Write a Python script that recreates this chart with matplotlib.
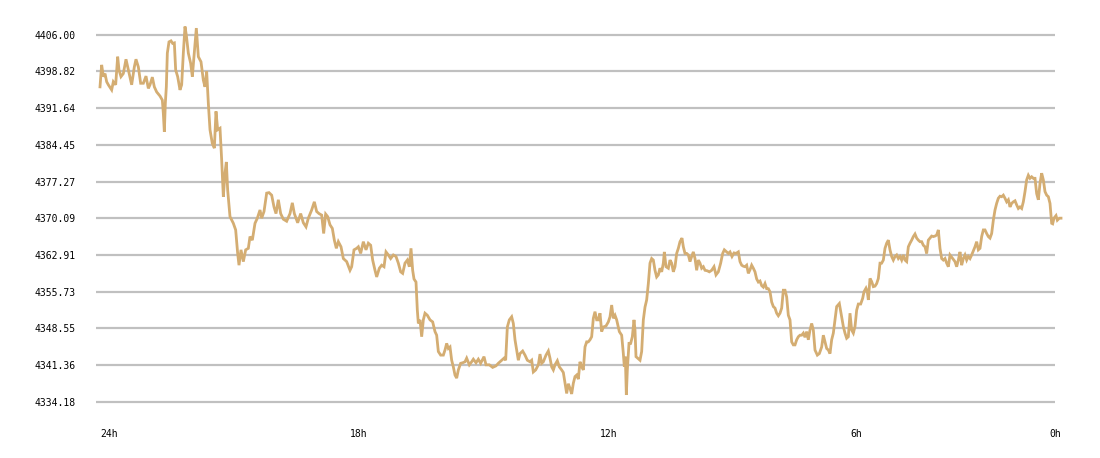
import matplotlib
matplotlib.use("Agg")
import matplotlib.pyplot as plt
import numpy as np

# price readings, minutes since start of the 24h window
t_a = [0, 2.5, 5, 7.5, 10, 12.5, 17.5, 20, 23.5, 26.5, 28.5, 31.5, 35, 39, 42.5, 47.5, 51.5, 54, 57.5, 61,
       65, 69, 72.5, 75, 78.5, 81.5, 85, 90, 93.5, 95, 96.5, 98, 99.5, 101, 103.5, 106.5, 109, 111.5, 113.5, 116.5,
       120, 122.5, 125, 127.5, 129.5, 132.5, 136, 138.5, 141, 144.5, 147.5, 151.5, 155, 157.5, 160, 162.5, 165, 168.5, 171.5, 174,
       176.5, 180, 182.5, 185, 187.5, 189.5, 191.5, 195, 200, 203.5, 206.5, 208.5, 211.5, 215, 218.5, 222.5, 225, 228.5, 232.5, 236,
       240, 242.5, 246, 250, 253.5, 257.5, 261, 264, 267.5, 271, 275, 280, 285, 288.5, 291.5, 296.5, 301, 305, 309, 312.5,
       317.5, 321.5, 325, 328.5, 332.5, 335.5, 338.5, 341.5, 345, 348.5, 351.5, 354.5, 357.5, 361.5, 365]
p_a = [4395.8, 4400.1, 4397.8, 4398.4, 4396.8, 4396.2, 4395.2, 4396.8, 4396.2, 4401.7,
       4399.1, 4397.8, 4398.4, 4401.2, 4399.1, 4396.2, 4399.7, 4401.2, 4399.7, 4396.5,
       4396.5, 4397.9, 4395.5, 4396.2, 4397.7, 4395.8, 4394.8, 4394.0, 4393.2, 4390.6,
       4387.0, 4392.6, 4395.8, 4402.4, 4404.6, 4404.8, 4404.3, 4404.4, 4399.1, 4397.8,
       4395.2, 4396.2, 4402.4, 4407.6, 4405.9, 4402.4, 4400.4, 4397.8, 4401.7, 4407.3,
       4401.7, 4400.7, 4397.1, 4395.8, 4398.8, 4392.6, 4387.4, 4384.7, 4383.8, 4391.0,
       4387.4, 4387.7, 4381.5, 4374.3, 4378.9, 4381.1, 4375.6, 4370.4, 4369.1, 4367.8,
       4363.2, 4360.9, 4363.9, 4361.6, 4363.9, 4364.2, 4366.5, 4365.8, 4369.1, 4370.1,
       4371.7, 4370.1, 4371.4, 4375.0, 4375.1, 4374.6, 4372.3, 4371.0, 4373.7, 4371.0,
       4369.9, 4369.5, 4371.0, 4373.1, 4371.0, 4369.2, 4371.0, 4369.2, 4368.4, 4370.1,
       4371.7, 4373.3, 4371.4, 4371.0, 4370.7, 4367.1, 4370.9, 4370.4, 4368.8, 4368.1,
       4365.8, 4364.2, 4365.5, 4364.5, 4362.2]

t_b = [370, 375, 377.5, 381, 385, 387.5, 391, 395, 399, 402.5, 406, 409, 412.5, 415, 419, 422.5, 426, 429, 432.5, 436,
       440, 444, 447.5, 451, 454, 457.5, 461, 464, 466.5, 469, 471, 474, 476, 477.5, 480, 482.5, 485, 487.5, 491, 495,
       499, 502.5, 505, 507.5, 511, 515, 517.5, 520, 522.5, 525, 527.5, 530, 532.5, 535, 537.5, 541, 544, 547.5, 550, 554,
       557.5, 560, 564, 567.5, 571, 576, 579, 584, 589, 594, 597.5, 602.5, 606, 608.5, 611, 614, 617.5, 620, 622.5, 625,
       627.5, 630, 634, 637.5, 641, 645, 647.5, 650, 653.5, 657.5, 660, 662.5, 665, 669, 672.5, 675, 677.5, 680, 682.5, 686,
       689, 692.5, 695, 697.5, 700, 702.5, 705, 707.5, 710, 712.5, 715, 717.5]
p_b = [4361.6, 4359.9, 4360.6, 4363.9, 4364.2, 4364.5, 4363.2, 4365.5, 4363.9, 4365.2,
       4364.8, 4361.9, 4359.9, 4358.6, 4360.3, 4360.9, 4360.6, 4363.5, 4362.9, 4362.2,
       4362.9, 4362.6, 4361.3, 4359.6, 4359.3, 4361.3, 4361.9, 4360.6, 4364.2, 4359.9,
       4358.2, 4357.6, 4352.1, 4349.5, 4350.2, 4346.9, 4350.2, 4351.5, 4351.1, 4350.2,
       4349.8, 4347.9, 4347.2, 4344.0, 4343.3, 4343.3, 4344.3, 4345.6, 4344.6, 4344.9,
       4342.3, 4341.0, 4339.4, 4338.8, 4340.4, 4341.7, 4341.8, 4342.0, 4342.7, 4341.4,
       4342.0, 4342.5, 4341.8, 4342.5, 4341.7, 4343.0, 4341.4, 4341.4, 4340.9, 4341.2,
       4341.7, 4342.3, 4342.7, 4342.3, 4348.8, 4350.2, 4350.8, 4349.5, 4346.3, 4344.3,
       4342.3, 4343.6, 4344.1, 4343.3, 4342.3, 4342.0, 4342.3, 4340.0, 4340.4, 4341.4,
       4343.5, 4341.7, 4342.0, 4343.3, 4344.1, 4342.7, 4341.0, 4340.4, 4341.4, 4342.2,
       4341.0, 4340.4, 4339.9, 4337.8, 4335.8, 4337.7, 4336.8, 4335.7, 4337.8, 4339.1,
       4339.4, 4338.6]

t_c = [720, 722.5, 725, 727.5, 730, 732.5, 735, 737.5, 740, 742.5, 745, 747.5, 750, 752.5, 755, 759, 762.5, 765, 767.5, 770,
       772.5, 775, 779, 782.5, 785, 786.5, 788, 789.5, 791, 793.5, 796, 798.5, 801, 802.5, 804, 806.5, 810, 812.5, 815, 817.5,
       820, 822.5, 825, 827.5, 830, 832.5, 835, 837.5, 840, 842.5, 845, 846.5, 849, 852.5, 855, 857.5, 860, 862.5, 865, 867.5,
       870, 873, 875, 877.5, 880, 882.5, 885, 887.5, 890, 892.5, 895, 897.5, 900, 902.5, 905, 907.5, 911, 914, 917.5, 921,
       924, 927.5, 931, 934, 936.5, 940, 942.5, 945, 948, 951, 954, 957.5, 960, 962.5, 965, 967.5, 970, 972.5, 975, 977.5,
       980, 982.5, 985, 987.5, 990, 992.5, 995, 997.5, 1000, 1002.5, 1005, 1007.5, 1010, 1012.5, 1015, 1017.5, 1020, 1022.5,
       1025, 1027.5, 1030, 1032.5, 1035, 1037.5, 1040, 1042.5, 1045, 1047.5, 1050, 1052.5, 1055, 1057.5, 1060, 1062.5,
       1065, 1067.5, 1070]
p_c = [4342.0, 4341.0, 4340.4, 4344.9, 4345.9, 4345.9, 4346.3, 4346.9, 4350.5, 4351.8,
       4350.2, 4350.2, 4351.5, 4347.9, 4348.8, 4349.0, 4349.8, 4350.8, 4353.1, 4350.5,
       4351.1, 4350.2, 4347.9, 4347.2, 4343.6, 4341.0, 4343.0, 4335.5, 4340.4, 4345.6,
       4345.6, 4346.9, 4350.2, 4348.2, 4343.0, 4342.7, 4342.3, 4344.0, 4350.2, 4352.7,
       4354.1, 4357.3, 4361.3, 4362.2, 4361.9, 4359.9, 4358.6, 4359.0, 4360.3, 4359.6,
       4361.3, 4363.5, 4360.6, 4360.3, 4361.9, 4361.3, 4359.6, 4360.6, 4363.2, 4364.2,
       4365.5, 4366.2, 4364.5, 4363.2, 4363.2, 4362.9, 4361.6, 4362.6, 4363.5, 4362.2,
       4359.9, 4361.9, 4361.3, 4360.3, 4360.6, 4359.9, 4359.8, 4359.6, 4359.9, 4360.6,
       4359.0, 4359.6, 4361.3, 4363.2, 4363.9, 4363.5, 4363.2, 4363.5, 4362.6, 4363.3,
       4363.2, 4363.5, 4361.6, 4360.9, 4360.7, 4360.6, 4360.9, 4359.3, 4360.0, 4360.9,
       4360.3, 4359.6, 4358.2, 4357.6, 4357.8, 4356.9, 4356.6, 4357.3, 4356.3, 4356.3,
       4355.7, 4353.7, 4352.8, 4352.5, 4351.5, 4351.0, 4351.5, 4352.5, 4356.0, 4356.0,
       4354.7, 4351.1, 4350.2, 4345.9, 4345.3, 4345.3, 4346.3, 4346.9, 4347.2, 4347.2,
       4347.6, 4346.8, 4347.9, 4346.3, 4348.2, 4349.5, 4348.2]

t_d = [1072.5, 1076, 1079, 1082.5, 1085, 1087.5, 1090, 1092.5, 1095, 1097.5, 1100, 1102.5, 1105, 1109, 1112.5, 1115,
       1117.5, 1120, 1122.5, 1125, 1127.5, 1130, 1132.5, 1135, 1137.5, 1141, 1144, 1146, 1149, 1151, 1152.5,
       1155, 1157.5, 1160, 1162.5, 1165, 1167.5, 1170, 1172.5, 1175, 1177.5, 1180, 1182.5, 1185, 1187.5, 1190, 1192.5,
       1195, 1197.5, 1200, 1202.5, 1205, 1207.5, 1210, 1212.5, 1215, 1217.5, 1220, 1222.5, 1225, 1227.5, 1230, 1232.5,
       1235, 1237.5, 1240, 1242.5, 1245, 1247.5, 1250, 1252.5, 1255, 1257.5, 1260, 1262.5, 1265, 1267.5, 1270, 1272.5,
       1275, 1279, 1282.5, 1285, 1287.5, 1290, 1292.5, 1295, 1297.5, 1300, 1302.5, 1305, 1307.5, 1310, 1312.5, 1315,
       1317.5, 1320, 1322.5, 1325, 1327.5, 1330, 1332.5, 1335, 1337.5, 1340, 1342.5, 1345, 1347.5, 1350, 1352.5, 1355,
       1357.5, 1360, 1362.5, 1365, 1367.5, 1370, 1372.5, 1375, 1377.5, 1380, 1382.5, 1385, 1387.5, 1390, 1392.5, 1395,
       1397.5, 1400, 1402.5, 1405, 1407.5, 1410, 1412.5, 1415, 1417.5, 1420, 1422.5, 1425, 1427.5, 1429, 1431, 1434,
       1436, 1439, 1441.5]
p_d = [4344.3, 4343.3, 4343.6, 4344.9, 4347.2, 4345.9, 4344.6, 4344.3, 4343.6, 4346.3,
       4347.6, 4350.2, 4352.8, 4353.4, 4350.8, 4348.9, 4347.6, 4346.6, 4346.9, 4351.5,
       4348.2, 4347.6, 4348.9, 4352.1, 4353.3, 4353.3, 4354.4, 4355.7, 4356.4, 4355.7,
       4354.1, 4358.3, 4357.7, 4356.7, 4356.8, 4357.3, 4358.3, 4361.3, 4361.3, 4361.9,
       4364.2, 4365.2, 4365.8, 4363.9, 4362.6, 4361.9, 4362.6, 4362.9, 4362.2, 4362.6,
       4361.9, 4362.9, 4361.9, 4361.6, 4364.5, 4365.2, 4365.8, 4366.5, 4367.0, 4366.2,
       4365.8, 4365.5, 4365.5, 4364.8, 4364.5, 4363.2, 4365.8, 4366.2, 4366.6, 4366.5,
       4366.6, 4366.8, 4367.8, 4364.2, 4362.2, 4361.9, 4362.2, 4361.3, 4360.6, 4362.9,
       4362.2, 4361.6, 4360.6, 4361.9, 4363.5, 4360.9, 4362.2, 4362.9, 4361.9, 4362.6,
       4362.2, 4362.9, 4363.7, 4364.5, 4365.5, 4363.9, 4364.2, 4366.5, 4367.8, 4367.8,
       4367.1, 4366.5, 4366.2, 4367.1, 4369.7, 4371.7, 4373.0, 4374.0, 4374.4, 4374.3,
       4374.6, 4374.0, 4373.3, 4373.7, 4372.3, 4373.0, 4373.3, 4373.5, 4372.7, 4372.0,
       4372.3, 4372.0, 4373.3, 4375.3, 4377.6, 4378.5, 4377.9, 4378.2, 4377.9, 4377.9,
       4374.9, 4373.7, 4376.9, 4378.9, 4377.6, 4375.3, 4374.6, 4374.3, 4373.0, 4369.1,
       4369.0, 4370.1, 4370.6, 4369.7, 4370.1, 4370.1]

y_ticks = [4334.18, 4341.36, 4348.55, 4355.73, 4362.91, 4370.09, 4377.27, 4384.45, 4391.64, 4398.82, 4406.00]
x_ticks = [0, 375, 750, 1125, 1441.5]
x_labels = ['24h', '18h', '12h', '6h', '0h']

minutes = np.array(t_a + t_b + t_c + t_d)
prices = np.array(p_a + p_b + p_c + p_d)

fig = plt.figure(figsize=(11, 4.58), dpi=100)
ax = fig.add_axes([96 / 1100, 48 / 458, 966 / 1100, 395 / 458])
ax.set_xlim(-6, 1443)
ax.set_ylim(4332.56, 4409.86)

# grid lines stop a little short of the last point
ax.hlines(y_ticks, -6, 1432.5, colors='#c0c0c0', linewidth=1.6, zorder=1)
ax.plot(minutes, prices, color='#d4ad72', linewidth=2.0, zorder=2,
        solid_joinstyle='miter', clip_on=False)

for s in ax.spines.values():
    s.set_visible(False)
ax.set_yticks(y_ticks)
ax.set_yticklabels(['%.2f' % v for v in y_ticks])
ax.set_xticks(x_ticks)
ax.set_xticklabels(x_labels)
ax.tick_params(axis='y', length=0, pad=14.5, labelsize=7)
ax.tick_params(axis='x', length=0, pad=14, labelsize=7)
for lab in ax.get_yticklabels() + ax.get_xticklabels():
    lab.set_family('DejaVu Sans Mono')
xl = ax.get_xticklabels()
for lab in xl[:-1]:
    lab.set_horizontalalignment('left')
xl[-1].set_horizontalalignment('right')

fig.savefig('out.png', dpi=100, facecolor='white')
